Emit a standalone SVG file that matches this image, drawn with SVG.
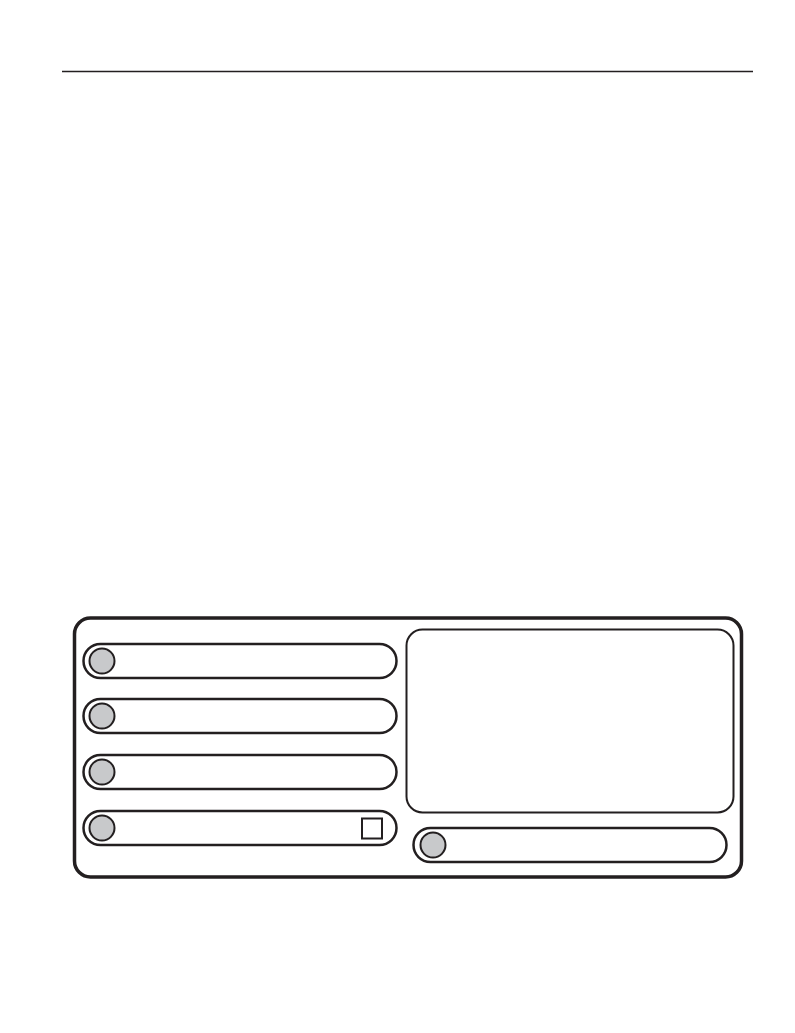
<svg xmlns="http://www.w3.org/2000/svg" width="795" height="1033" viewBox="0 0 795 1033">
<style>
.pill{fill:#fff;stroke:#231f20;stroke-width:2.5}
.knob{fill:#c8c9cb;stroke:#231f20;stroke-width:2}
</style>
<rect width="795" height="1033" fill="#fff"/>
<line x1="62" y1="71.5" x2="753" y2="71.5" stroke="#231f20" stroke-width="1.5"/>
<g id="panel">
<rect x="74.5" y="618" width="667" height="259" rx="16" fill="#fff" stroke="#231f20" stroke-width="3.5"/>
</g>
<g id="screen">
<rect x="406.5" y="629.5" width="327" height="183" rx="16" fill="#fff" stroke="#231f20" stroke-width="2"/>
</g>
<g id="button1">
<rect class="pill" x="83.5" y="644" width="313" height="34" rx="17"/>
<circle class="knob" cx="102" cy="661" r="12.5"/>
</g>
<g id="button2">
<rect class="pill" x="83.5" y="699" width="313" height="34" rx="17"/>
<circle class="knob" cx="102" cy="716" r="12.5"/>
</g>
<g id="button3">
<rect class="pill" x="83.5" y="755" width="313" height="34" rx="17"/>
<circle class="knob" cx="102" cy="772" r="12.5"/>
</g>
<g id="button4">
<rect class="pill" x="83.5" y="811" width="313" height="34" rx="17"/>
<circle class="knob" cx="102" cy="828" r="12.5"/>
<rect x="362" y="818.5" width="20" height="20" fill="#fff" stroke="#231f20" stroke-width="2"/>
</g>
<g id="button5">
<rect class="pill" x="413.5" y="828" width="313" height="34" rx="17"/>
<circle class="knob" cx="433" cy="845" r="12.5"/>
</g>
<g id="connectors"></g>
</svg>
